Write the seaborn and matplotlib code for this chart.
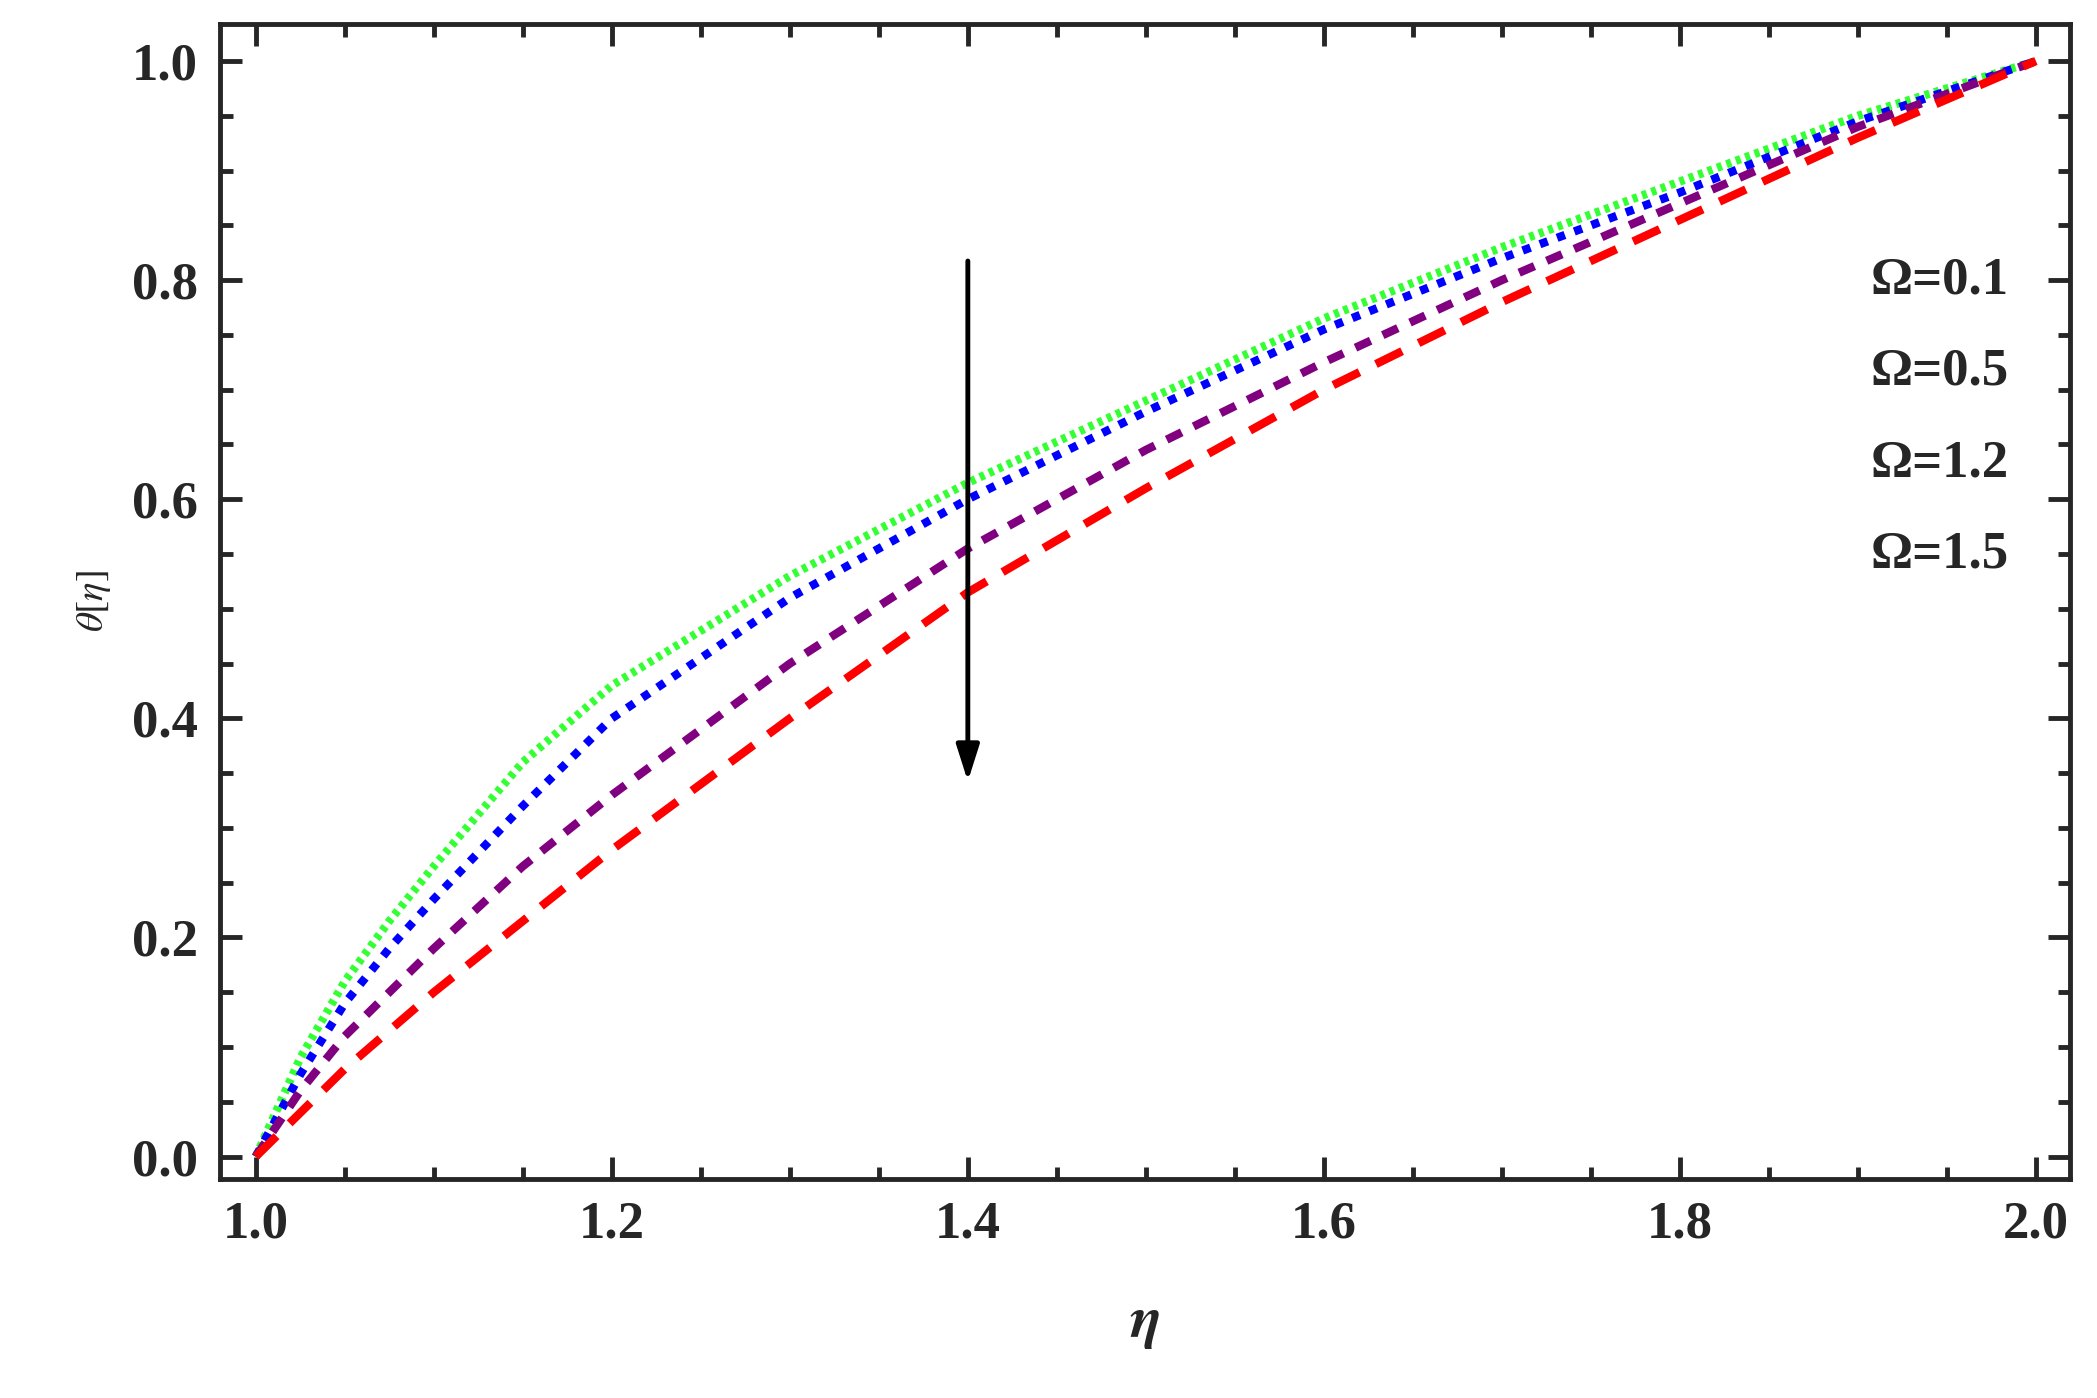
import numpy as np
import pandas as pd
import matplotlib.pyplot as plt
import seaborn as sns
from matplotlib.ticker import MultipleLocator

sns.set_style("ticks")
plt.rcParams['font.family'] = ['Liberation Serif', 'DejaVu Serif']
plt.rcParams['mathtext.fontset'] = 'stix'

# values
eta = [1.0, 1.025, 1.05, 1.075, 1.1, 1.15, 1.2, 1.3, 1.4, 1.5, 1.6, 1.7, 1.8, 1.9, 2.0]
theta_01 = [0.0, 0.09, 0.16, 0.215, 0.265, 0.36, 0.43, 0.53, 0.615, 0.69, 0.765, 0.83, 0.89, 0.95, 1.0]
theta_05 = [0.0, 0.075, 0.14, 0.19, 0.235, 0.32, 0.40, 0.51, 0.60, 0.68, 0.755, 0.82, 0.88, 0.945, 1.0]
theta_12 = [0.0, 0.06, 0.11, 0.15, 0.19, 0.265, 0.33, 0.45, 0.555, 0.645, 0.725, 0.80, 0.87, 0.94, 1.0]
theta_15 = [0.0, 0.04, 0.08, 0.115, 0.15, 0.215, 0.28, 0.40, 0.515, 0.61, 0.70, 0.78, 0.855, 0.93, 1.0]
labels = ["Ω=0.1", "Ω=0.5", "Ω=1.2", "Ω=1.5"]
colors = ["#33ff33", "#0000ff", "#800080", "#ff0000"]
dashes = [(0.6, 0.6), (1.0, 1.2), (2.0, 1.6), (3.5, 2.2)]

df = pd.DataFrame({"eta": eta * 4,
                   "theta": theta_01 + theta_05 + theta_12 + theta_15,
                   "omega": sum([[l] * len(eta) for l in labels], [])})

fig = plt.figure(figsize=(20.97, 13.98), dpi=100)
ax = fig.add_axes([0.105, 0.157, 0.882, 0.826])

for lab, col, ds in zip(labels, colors, dashes):
    sub = df[df["omega"] == lab]
    sns.lineplot(data=sub, x="eta", y="theta", ax=ax, color=col, lw=6,
                 dashes=False, legend=False).lines[-1].set_dashes(ds)

ax.set_xlim(0.98, 2.019)
ax.set_ylim(-0.02, 1.034)
ax.xaxis.set_major_locator(MultipleLocator(0.2))
ax.xaxis.set_minor_locator(MultipleLocator(0.05))
ax.yaxis.set_major_locator(MultipleLocator(0.2))
ax.yaxis.set_minor_locator(MultipleLocator(0.05))
ax.xaxis.set_major_formatter(plt.FormatStrFormatter('%.1f'))
ax.yaxis.set_major_formatter(plt.FormatStrFormatter('%.1f'))
ax.tick_params(which='both', direction='in', top=True, right=True, width=3.5)
ax.tick_params(which='major', length=16, labelsize=38, pad=16)
ax.tick_params(which='minor', length=9)
for t in ax.get_xticklabels() + ax.get_yticklabels():
    t.set_fontweight('bold')
for s in ax.spines.values():
    s.set_linewidth(3.5)

ax.set_xlabel("$\\boldsymbol{\\eta}$", fontsize=42, labelpad=36)
ax.set_ylabel("$\\theta[\\eta]$", fontsize=28, labelpad=14)

ax.annotate("", xy=(1.4, 0.34), xytext=(1.4, 0.82),
            arrowprops=dict(arrowstyle="-|>,head_length=2.2,head_width=0.7",
                            color="black", lw=3.5))
for lab, yy in zip(labels, [0.80, 0.717, 0.633, 0.55]):
    ax.text(1.985, yy, lab, fontsize=38, fontweight='bold', ha="right", va="center")

plt.savefig("out.png", dpi=100)
